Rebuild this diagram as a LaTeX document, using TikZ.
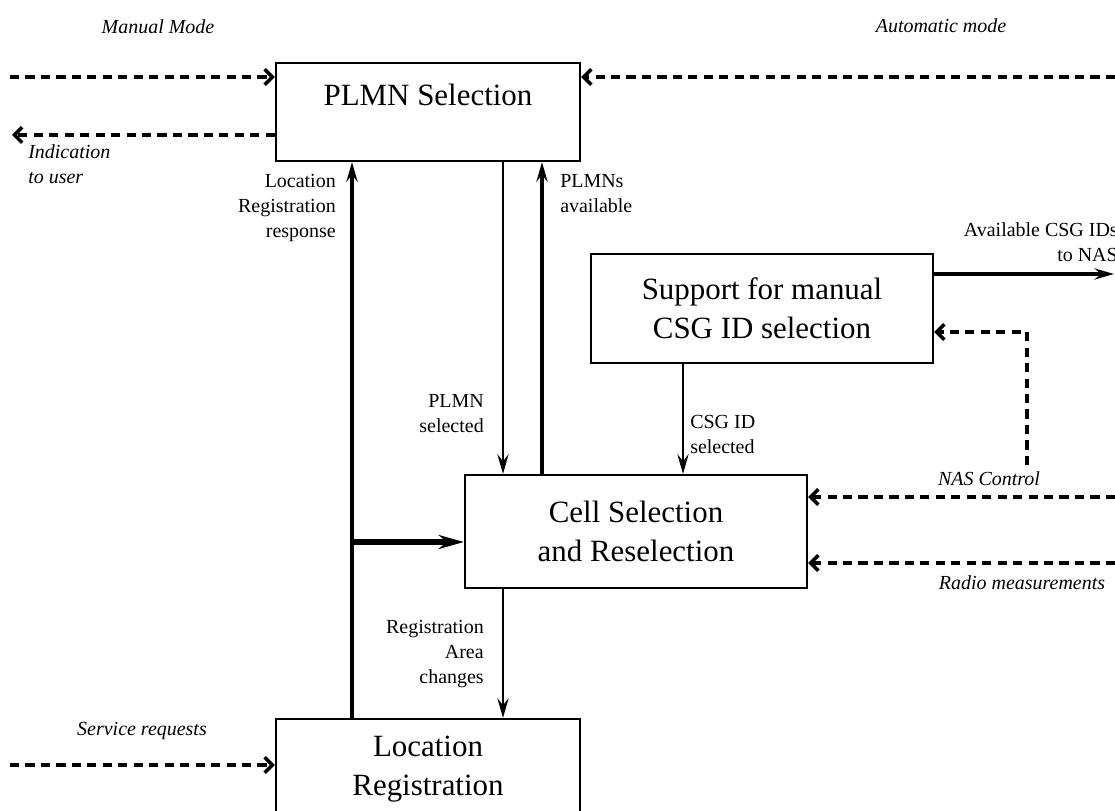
\documentclass[tikz,border=0pt]{standalone}
\usepackage{fontspec}
\setmainfont{Liberation Serif}
\usetikzlibrary{arrows.meta}

\tikzset{
	box/.style={draw, line width=1.6pt, inner sep=0pt, align=center, font=\fontsize{22}{28}\selectfont},
	boxtext/.style={inner sep=0pt, font=\fontsize{22}{28}\selectfont},
	lbl/.style={inner sep=0pt, font=\fontsize{14.2}{17.8}\selectfont},
	ilbl/.style={inner sep=0pt, font=\fontsize{14.2}{17.8}\selectfont\itshape},
	flow/.style={line width=1.8pt, -{Stealth[length=14pt,width=8pt,inset=5pt]}},
	flowthick/.style={line width=2.4pt, -{Stealth[length=14pt,width=8pt,inset=5pt]}},
	feed/.style={line width=3.8pt, -{Stealth[length=18pt,width=10pt,inset=6pt]}},
	ctrl/.style={line width=2.5pt, dash pattern=on 6.5pt off 4.5pt, -{Straight Barb[length=5.5pt,width=11pt]}}
}

\begin{document}
\begin{tikzpicture}
	\useasboundingbox (0, 0) rectangle (27.875, 20.25);

	\node[box, minimum width=7.6cm, minimum height=2.45cm] (plmn) at (10.7, 17.45) {};
	\node[boxtext] (plmntxt) at (10.7, 17.875) {PLMN Selection};
	\node[box, minimum width=8.55cm, minimum height=2.725cm] (supp) at (19.05, 12.5375) {Support for manual\\CSG ID selection};
	\node[box, minimum width=8.55cm, minimum height=2.825cm] (cell) at (15.9, 6.9625) {Cell Selection\\and Reselection};
	\node[box, minimum width=7.6cm, minimum height=2.5cm] (locreg) at (10.7, 1.025) {Location\\Registration};

	\coordinate (manin) at (0.25, 18.325);
	\coordinate (indout) at (0.3, 16.875);
	\coordinate (autoin) at (27.875, 18.325);
	\coordinate (nasout) at (27.85, 13.4);
	\coordinate (nasctl) at (25.675, 8.625);
	\coordinate (ctlin) at (27.875, 7.825);
	\coordinate (radin) at (27.875, 6.175);
	\coordinate (srvin) at (0.25, 1.125);
	\coordinate (fork) at (8.8, 6.7);

	\draw[flowthick] ([xshift=-1.9cm]locreg.north) -- ([xshift=-1.9cm]plmn.south);
	\draw[flow] ([xshift=1.875cm]plmn.south) -- ([xshift=1.875cm]plmn.south |- cell.north);
	\draw[flowthick] ([xshift=2.85cm]plmn.south |- cell.north) -- ([xshift=2.85cm]plmn.south);
	\draw[flow] ([xshift=-1.975cm]supp.south) -- ([xshift=-1.975cm]supp.south |- cell.north);
	\draw[flow] ([xshift=1.875cm]locreg.north |- cell.south) -- ([xshift=1.875cm]locreg.north);
	\draw[flowthick] (supp.east |- nasout) -- (nasout);
	\draw[feed] (fork) -- (fork -| cell.west);

	\draw[ctrl] (manin) -- (manin -| plmn.west);
	\draw[ctrl] (indout -| plmn.west) -- (indout);
	\draw[ctrl] (autoin) -- (autoin -| plmn.east);
	\draw[ctrl] (nasctl) |- ([yshift=-0.5875cm]supp.east);
	\draw[ctrl] (ctlin) -- (ctlin -| cell.east);
	\draw[ctrl] (radin) -- (radin -| cell.east);
	\draw[ctrl] (srvin) -- (srvin -| locreg.west);

	\node[ilbl] (manual) at (3.95, 19.58) {Manual Mode};
	\node[ilbl] (auto) at (23.525, 19.6) {Automatic mode};
	\node[ilbl, anchor=north west, align=left] (indic) at (0.7, 16.65) {Indication\\to user};
	\node[lbl, anchor=north east, align=right] (lrresp) at (8.4, 15.9) {Location\\Registration\\response};
	\node[lbl, anchor=north west, align=left] (avail) at (14.0, 15.9) {PLMNs\\available};
	\node[lbl, anchor=north east, align=right] (plmnsel) at (12.1, 10.4) {PLMN\\selected};
	\node[lbl, anchor=north west, align=left] (csgsel) at (17.25, 9.875) {CSG ID\\selected};
	\node[lbl, anchor=north east, align=right] (csgnas) at (27.95, 14.7) {Available CSG IDs\\to NAS};
	\node[ilbl] (nasctltxt) at (24.725, 8.275) {NAS Control};
	\node[ilbl] (radio) at (25.55, 5.675) {Radio measurements};
	\node[lbl, anchor=north east, align=right] (regarea) at (12.1, 4.75) {Registration\\Area\\changes};
	\node[ilbl] (service) at (3.55, 1.975) {Service requests};

\end{tikzpicture}
\end{document}
